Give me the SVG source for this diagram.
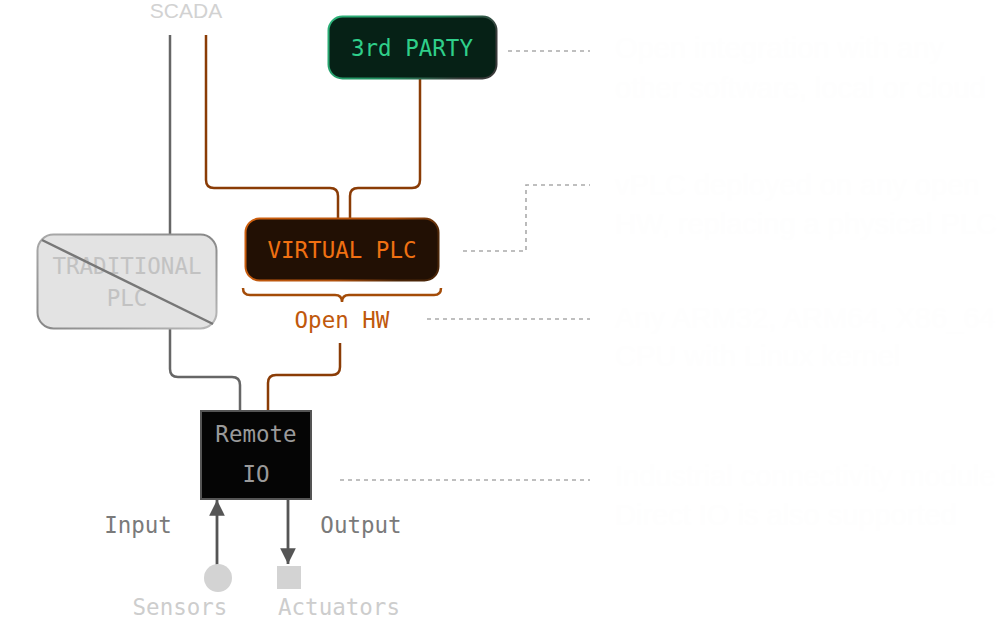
<svg xmlns="http://www.w3.org/2000/svg" width="1003" height="621" viewBox="0 0 1003 621">
<style>
.mono{font-family:"DejaVu Sans Mono","Liberation Mono",monospace;font-size:22.5px;text-anchor:middle}
.sans{font-family:"Liberation Sans",Arial,sans-serif}
.note{font-family:"Liberation Sans",Arial,sans-serif;font-size:29px;fill:#fefefe}
.gray{fill:none;stroke:#666;stroke-width:2.5}
.orange{fill:none;stroke:#8a3c06;stroke-width:2.5}
.dot{fill:none;stroke:#aaa;stroke-width:1.6;stroke-dasharray:4 4}
</style>
<defs>
<linearGradient id="gGreen" x1="0" y1="0" x2="1" y2="0.3">
<stop offset="0" stop-color="#2db37a"/><stop offset="0.6" stop-color="#1f8a5c"/><stop offset="1" stop-color="#3a3a3a"/>
</linearGradient>
<linearGradient id="gOrange" x1="0" y1="0" x2="1" y2="0.3">
<stop offset="0" stop-color="#d0600e"/><stop offset="0.7" stop-color="#b0500c"/><stop offset="1" stop-color="#4a2508"/>
</linearGradient>
<linearGradient id="gGray" x1="0" y1="0" x2="1" y2="1">
<stop offset="0" stop-color="#aaa"/><stop offset="0.5" stop-color="#888"/><stop offset="1" stop-color="#bbb"/>
</linearGradient>
<marker id="arr" viewBox="0 0 10 10" refX="10" refY="5" markerWidth="5.6" markerHeight="5.6" markerUnits="strokeWidth" orient="auto">
<path d="M0,0 L10,5 L0,10 z" fill="#555"/>
</marker>
</defs>
<rect width="1003" height="621" fill="#fff"/>

<g id="connectors">
<path class="gray" d="M170,35 V235"/>
<path class="gray" d="M170,329 V369 Q170,377 178,377 H232 Q240,377 240,385 V411"/>
<path class="orange" d="M206,35 V180 Q206,188 214,188 H330 Q338,188 338,196 V218"/>
<path class="orange" d="M420,79 V180 Q420,188 412,188 H358 Q350,188 350,196 V218"/>
<path class="orange" d="M340,343 V367 Q340,375 332,375 H276 Q268,375 268,383 V411"/>
<path d="M243,288 Q243,295 250,295 H335 Q342,295 342,302 Q342,295 349,295 H434 Q441,295 441,288" fill="none" stroke="#a44c08" stroke-width="2.5"/>
<line x1="217" y1="565" x2="217" y2="500" stroke="#555" stroke-width="2.8" marker-end="url(#arr)"/>
<line x1="288" y1="499" x2="288" y2="564" stroke="#555" stroke-width="2.8" marker-end="url(#arr)"/>
<path class="dot" d="M508,51 H590"/>
<path class="dot" d="M463,251 H526 V185 H590"/>
<path class="dot" d="M427,319 H590"/>
<path class="dot" d="M340,480 H590"/>
</g>

<g id="scada">
<text x="186" y="18" class="sans" font-size="21" fill="#d2d2d2" text-anchor="middle">SCADA</text>
</g>

<g id="third-party">
<rect x="328.5" y="16.5" width="168" height="62" rx="14" fill="#062116" stroke="url(#gGreen)" stroke-width="2"/>
<text x="412" y="56" class="mono" fill="#2fcf8a">3rd PARTY</text>
</g>

<g id="virtual-plc">
<rect x="245.5" y="218.5" width="193" height="62" rx="14" fill="#221004" stroke="url(#gOrange)" stroke-width="2"/>
<text x="342" y="258" class="mono" fill="#f07012">VIRTUAL PLC</text>
</g>

<g id="open-hw">
<text x="342" y="328" class="mono" fill="#c0580c">Open HW</text>
</g>

<g id="traditional-plc">
<rect x="37.5" y="234.5" width="179" height="94" rx="16" fill="#e3e3e3" stroke="url(#gGray)" stroke-width="2"/>
<text x="127" y="274" class="mono" fill="#c2c2c2">TRADITIONAL</text>
<text x="127" y="306" class="mono" fill="#c2c2c2">PLC</text>
<line x1="42" y1="240" x2="213" y2="324" stroke="#777" stroke-width="2.5"/>
</g>

<g id="remote-io">
<rect x="201" y="411" width="110" height="88" fill="#050505" stroke="#555" stroke-width="2"/>
<text x="256" y="442" class="mono" fill="#9a9a9a">Remote</text>
<text x="256" y="482" class="mono" fill="#9a9a9a">IO</text>
</g>

<g id="input-label"><text x="138" y="533" class="mono" fill="#7a7a7a">Input</text></g>
<g id="output-label"><text x="361" y="533" class="mono" fill="#7a7a7a">Output</text></g>

<g id="sensors">
<circle cx="218" cy="578" r="14" fill="#d3d3d3"/>
<text x="180" y="615" class="mono" fill="#cdcdcd">Sensors</text>
</g>
<g id="actuators">
<rect x="277" y="566" width="24" height="23" fill="#d3d3d3"/>
<text x="339" y="615" class="mono" fill="#cdcdcd">Actuators</text>
</g>

<g id="notes">
<text x="615" y="58" class="note">Open integration with any</text>
<text x="615" y="98" class="note">other software, local or cloud</text>
<text x="615" y="195" class="note">vPLC deployed on any open</text>
<text x="615" y="234" class="note">HW, replacing a physical PLC</text>
<text x="615" y="328" class="note">Any ARM32, ARM64, X86_64</text>
<text x="615" y="366" class="note">CPU with Linux kernel</text>
<text x="615" y="486" class="note">Industrial connectivity module</text>
<text x="615" y="525" class="note">Direct IO is also supported</text>
</g>
</svg>
